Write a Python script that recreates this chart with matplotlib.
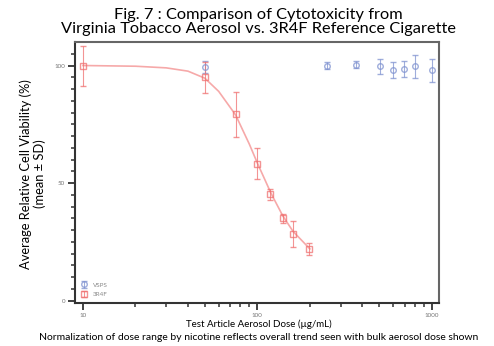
import matplotlib
matplotlib.use("Agg")
import matplotlib.pyplot as plt
from matplotlib.ticker import FixedLocator, NullFormatter

plt.rcParams['font.family'] = ['Lato', 'DejaVu Sans']

title = "Fig. 7 : Comparison of Cytotoxicity from\nVirginia Tobacco Aerosol vs. 3R4F Reference Cigarette"
ylabel = "Average Relative Cell Viability (%)\n(mean ± SD)"
xlabel = "Test Article Aerosol Dose (µg/mL)"
caption = "Normalization of dose range by nicotine reflects overall trend seen with bulk aerosol dose shown"

# 3R4F data
r_dose = [10, 50, 75, 100, 118, 140, 161, 198]
r_mean = [100, 95, 79.2, 58.3, 45.2, 35, 28.3, 22]
r_sd = [8.5, 6.5, 9.5, 6.5, 2.2, 2.0, 5.5, 2.5]

# 3R4F fitted curve
fit_dose = [10, 20, 30, 40, 50, 60, 75, 90, 100, 120, 140, 160, 200]
fit_via = [100, 99.7, 99, 97.6, 94.6, 89, 79, 66.5, 58.5, 45.5, 36, 29.5, 22]

# VSPS data
v_dose = [50, 250, 368, 502, 601, 689, 796, 1004]
v_mean = [99.4, 100, 100.4, 99.6, 98.2, 98.6, 99.6, 97.9]
v_sd = [2.5, 1.5, 1.5, 3.0, 3.3, 3.5, 5.0, 5.0]

red = "#f07070"
blue = "#7f92d0"

fig = plt.figure(figsize=(4.94, 3.46), dpi=100)
ax = fig.add_axes([75/494, 1-303/346, (439-75)/494, (303-42)/346])

ax.plot(fit_dose, fit_via, color=red, lw=1.2, alpha=0.6, zorder=2)
ax.errorbar(v_dose, v_mean, yerr=v_sd, fmt='o', ms=4, mfc='none', mec=blue, mew=1.0,
            ecolor=blue, elinewidth=0.8, capsize=2, alpha=0.75, label="VSPS", zorder=3)
ax.errorbar(r_dose, r_mean, yerr=r_sd, fmt='s', ms=4, mfc='none', mec=red, mew=1.0,
            ecolor=red, elinewidth=0.8, capsize=2, alpha=0.75, label="3R4F", zorder=3)

ax.set_xscale('log')
ax.set_xlim(9.0, 1100)
ax.set_ylim(-1, 110)
ax.xaxis.set_major_locator(FixedLocator([10, 100, 1000]))
ax.xaxis.set_minor_locator(FixedLocator([k*10**e for e in (1, 2) for k in range(2, 10)]))
ax.xaxis.set_minor_formatter(NullFormatter())
ax.set_xticklabels(["10", "100", "1000"])
ax.yaxis.set_major_locator(FixedLocator([0, 50, 100]))
ax.yaxis.set_minor_locator(FixedLocator(list(range(5, 110, 5))))
ax.yaxis.set_minor_formatter(NullFormatter())
ax.set_yticklabels(["0", "50", "100"])
ax.tick_params(which='major', direction='out', length=5, width=1.3, labelsize=4.5,
               labelcolor="#777777", color="#333333", pad=2)
ax.tick_params(which='minor', direction='out', length=3, width=1.1, color="#333333")

for s in ax.spines.values():
    s.set_color("#666666")
    s.set_linewidth(1.5)
ax.spines['left'].set_color("#333333")
ax.spines['bottom'].set_color("#333333")

leg = ax.legend(loc='lower left', frameon=False, fontsize=4.5, handlelength=1.2,
                borderaxespad=0.5, labelspacing=0.7)
for t in leg.get_texts():
    t.set_color("#888888")

fig.text(258/494, 1-22/346, title, ha='center', va='center', fontsize=11.8, linespacing=0.95)
fig.text(33/494, 1-174/346, ylabel, ha='center', va='center', rotation=90, fontsize=9.3, linespacing=1.15)
fig.text(259/494, 1-324/346, xlabel, ha='center', va='center', fontsize=7)
fig.text(259/494, 1-338/346, caption, ha='center', va='center', fontsize=7.5)

fig.savefig("out.png", dpi=100)
